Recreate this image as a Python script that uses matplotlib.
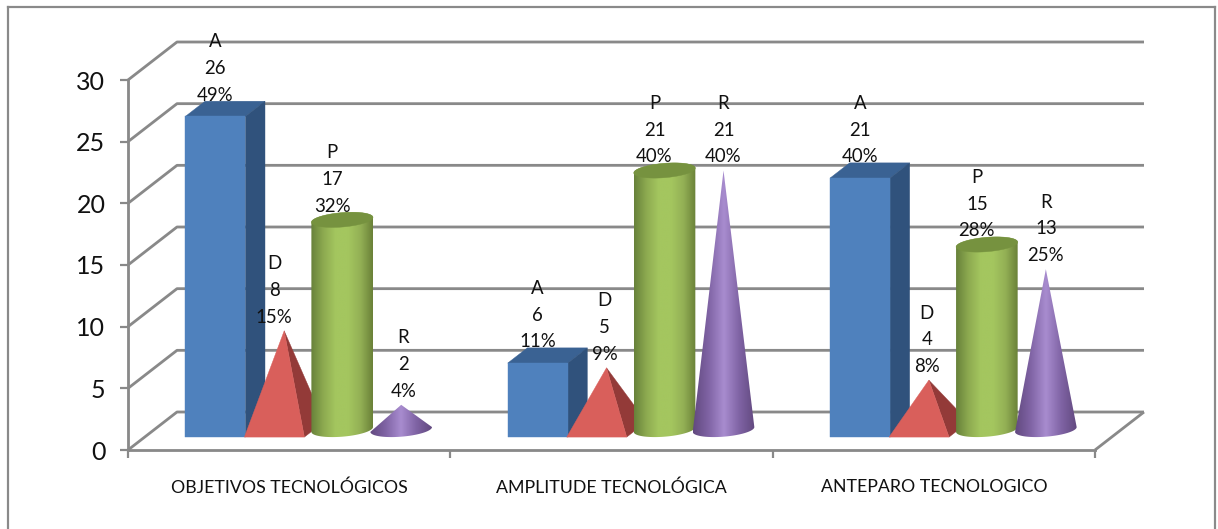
import numpy as np
import matplotlib
matplotlib.use("Agg")
import matplotlib.pyplot as plt
from matplotlib.colors import LinearSegmentedColormap
from matplotlib.lines import Line2D
from matplotlib.patches import Polygon

categories = ["OBJETIVOS TECNOLÓGICOS", "AMPLITUDE TECNOLÓGICA", "ANTEPARO TECNOLOGICO"]
series_names = ["A", "D", "P", "R"]
values_a = [26, 6, 21]
values_d = [8, 5, 4]
values_p = [17, 21, 15]
values_r = [2, 21, 13]
percent_a = [49, 11, 40]
percent_d = [15, 9, 8]
percent_p = [32, 40, 28]
percent_r = [4, 40, 25]
y_ticks = [0, 5, 10, 15, 20, 25, 30]

W, H = 1218, 529
LEFT, RIGHT, BOTTOM, TOP = 128, 1095, 450, 80   # plot box in pixels
UX = (RIGHT - LEFT) / 3
UY = (BOTTOM - TOP) / 30
GRAY = "#898989"
PX = 0.72  # one pixel in points at 100 dpi

plt.rcParams["font.family"] = ["Lato", "DejaVu Sans"]
fig = plt.figure(figsize=(W / 100, H / 100), dpi=100)
ax = fig.add_axes([LEFT / W, 1 - BOTTOM / H, (RIGHT - LEFT) / W, (BOTTOM - TOP) / H])
ax.patch.set_alpha(0)

# oblique depth: d=1 reaches the back wall
DEPTH_X, DEPTH_Y = 49 / UX, 38 / UY
D_FRONT, D_CENTER, D_BACK = 0.34, 0.54, 0.74
HALF_W = 30 / UX
ROUND_W = 29.2 / UX
SPACING = 59 / UX
GROUP_MID = 0.494


def project(x, v, d):
    return (x + d * DEPTH_X, v + d * DEPTH_Y)


def line(xs, ys, lw=2.2):
    ax.plot(xs, ys, color=GRAY, lw=lw * PX, clip_on=False, zorder=1, solid_capstyle="butt")


# back wall, side wall and floor
for v in y_ticks:
    x0, y0 = project(0, v, 0)
    x1, y1 = project(0, v, 1)
    x2, y2 = project(3, v, 1)
    line([x0, x1, x2], [y0, y1, y2], 2.8)
fx, fy = project(3, 0, 1)
line([3, fx], [0, fy], 2.8)

order = [0]


def next_z():
    order[0] += 1
    return 2 + order[0] * 0.01


def poly(points, color):
    ax.add_patch(Polygon(points, closed=True, facecolor=color, edgecolor=color, lw=0.3, zorder=next_z(), clip_on=False))


def shaded(outline, x_min, x_max, y_max, cmap):
    z = next_z()
    clip = Polygon(outline, closed=True, transform=ax.transData, facecolor="none", edgecolor="none")
    ax.add_patch(clip)
    grad = np.linspace(0, 1, 256).reshape(1, -1)
    im = ax.imshow(grad, extent=[x_min, x_max, 0, y_max], aspect="auto", cmap=cmap,
                   interpolation="bilinear", zorder=z)
    im.set_clip_path(clip)


def ellipse_points(cx, v, t):
    return np.column_stack(project(cx + ROUND_W * np.cos(t), v + 0 * t, D_CENTER + (D_BACK - D_CENTER) * np.sin(t)))


def extremes():
    return np.arctan2((D_BACK - D_CENTER) * DEPTH_X, ROUND_W)


def box(cx, v):
    a, b = cx - HALF_W, cx + HALF_W
    poly([project(a, v, D_FRONT), project(b, v, D_FRONT), project(b, v, D_BACK), project(a, v, D_BACK)], "#3A6293")
    poly([project(b, 0, D_FRONT), project(b, 0, D_BACK), project(b, v, D_BACK), project(b, v, D_FRONT)], "#30527C")
    poly([project(a, 0, D_FRONT), project(b, 0, D_FRONT), project(b, v, D_FRONT), project(a, v, D_FRONT)], "#4F81BD")


def pyramid(cx, v):
    a, b = cx - HALF_W, cx + HALF_W
    apex = project(cx, v, D_CENTER)
    poly([project(b, 0, D_FRONT), project(b, 0, D_BACK), apex], "#933A38")
    poly([project(a, 0, D_FRONT), project(b, 0, D_FRONT), apex], "#D95F5B")


green_map = LinearSegmentedColormap.from_list("g", ["#67813A", "#8DAA50", "#A4C65F", "#A4C65F", "#93B055", "#6A8138"])
violet_map = LinearSegmentedColormap.from_list("v", ["#62497F", "#7F63A4", "#A88CCF", "#7F63A4", "#62497F"])


def cylinder(cx, v):
    tr = extremes()
    lower = ellipse_points(cx, 0, np.linspace(tr + np.pi, tr + 2 * np.pi, 60))
    upper = ellipse_points(cx, v, np.linspace(tr, tr + np.pi, 60))
    outline = np.vstack([lower, upper])
    shaded(outline, outline[:, 0].min(), outline[:, 0].max(), outline[:, 1].max(), green_map)
    poly(ellipse_points(cx, v, np.linspace(0, 2 * np.pi, 100)), "#76923F")


def cone(cx, v):
    tr = extremes()
    lower = ellipse_points(cx, 0, np.linspace(tr + np.pi, tr + 2 * np.pi, 60))
    outline = np.vstack([lower, [project(cx, v, D_CENTER)]])
    shaded(outline, outline[:, 0].min(), outline[:, 0].max(), outline[:, 1].max(), violet_map)


# horizontal nudges of the value labels, in pixels
label_nudge = [[-10, -10, -10], [-10, -2, -2], [-10, -10, -10], [2, 0, 0]]
painters = [box, pyramid, cylinder, cone]
all_values = [values_a, values_d, values_p, values_r]
all_percent = [percent_a, percent_d, percent_p, percent_r]

for c in range(len(categories)):
    for s, name in enumerate(series_names):
        v = all_values[s][c]
        cx = c + GROUP_MID + (s - 1.5) * SPACING - (1 / UX if s >= 2 else 0)
        painters[s](cx, v)
        tx, ty = project(cx, v, D_CENTER)
        ax.annotate(f"{name}\n{v}\n{all_percent[s][c]}%", (tx, ty),
                    xytext=(label_nudge[s][c] * PX, 5 * PX), textcoords="offset points",
                    ha="center", va="bottom", multialignment="center", fontsize=13.4,
                    linespacing=1.69, color="#111111", zorder=10, annotation_clip=False)

# axes furniture
ax.set_xlim(0, 3)
ax.set_ylim(0, 30)
for name in ("top", "right"):
    ax.spines[name].set_visible(False)
for name in ("left", "bottom"):
    ax.spines[name].set_color(GRAY)
    ax.spines[name].set_linewidth(2.8 * PX)
    ax.spines[name].set_zorder(1)
ax.set_yticks(y_ticks)
ax.tick_params(axis="y", length=8 * PX, width=2.2 * PX, color=GRAY, labelsize=18, pad=10.5, labelcolor="#111111")
ax.set_xticks([0, 1, 2, 3])
ax.set_xticklabels([])
ax.tick_params(axis="x", which="major", length=8 * PX, width=2.2 * PX, color=GRAY)
ax.set_xticks([0.5, 1.5, 2.5], minor=True)
ax.set_xticklabels(categories, minor=True)
ax.tick_params(axis="x", which="minor", length=0, pad=21.2, labelsize=12.8, labelcolor="#111111")

# chart frame: open along the bottom edge
fl = 7.5 / W
fr = 1215 / W
ft = 1 - 6.5 / H
for xs, ys in (([fl, fl], [0, ft]), ([fl, fr], [ft, ft]), ([fr, fr], [ft, 0])):
    fig.add_artist(Line2D(xs, ys, color="#8A8A8A", lw=2.2 * PX, transform=fig.transFigure))

fig.savefig("out.png", dpi=100)
